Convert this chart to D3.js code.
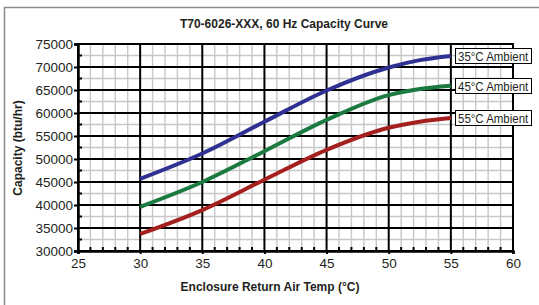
<!DOCTYPE html>
<html>
<head>
<meta charset="utf-8">
<script src="https://cdn.jsdelivr.net/npm/d3@7"></script>
<style>
body { margin: 0; background: #fff; }
text { font-family: Arial, "Liberation Sans", sans-serif; fill: #231f20; }
</style>
</head>
<body>
<svg width="539" height="305"></svg>
<script>
// data
var temps = [30, 35, 40, 45, 50, 52.5, 55];
var amb35 = [45700, 51200, 58100, 64900, 69900, 71500, 72400];
var amb45 = [39600, 45000, 51700, 58500, 63900, 65200, 65900];
var amb55 = [33700, 38900, 45500, 52000, 56800, 58100, 58900];
var seriesNames = ["35°C Ambient", "45°C Ambient", "55°C Ambient"];
var seriesColors = ["#2e3192", "#1b7a3f", "#a3201f"];
var xTicks = [25, 30, 35, 40, 45, 50, 55, 60];
var yTicks = [30000, 35000, 40000, 45000, 50000, 55000, 60000, 65000, 70000, 75000];

var svg = d3.select("svg");

// outer frame
svg.append("rect")
    .attr("x", 4.5).attr("y", 7.5)
    .attr("width", 560).attr("height", 320)
    .attr("fill", "none")
    .attr("stroke", "#8a8a8a")
    .attr("stroke-width", 1.5);

var x = d3.scaleLinear().domain([25, 60]).range([78, 513]);
var y = d3.scaleLinear().domain([30000, 75000]).range([251, 44]);

var minorX = d3.range(26, 60).filter(function(d){ return d % 5 != 0; });
var minorY = d3.range(32500, 75000, 5000);

// minor grid
var g = svg.append("g");
g.selectAll(".mx")
    .data(minorX)
    .enter().append("line")
    .attr("x1", function(d){ return x(d); })
    .attr("x2", function(d){ return x(d); })
    .attr("y1", y(75000)).attr("y2", y(30000))
    .attr("stroke", "#c8c8c8").attr("stroke-width", 1.4);
g.selectAll(".my")
    .data(minorY)
    .enter().append("line")
    .attr("y1", function(d){ return y(d); })
    .attr("y2", function(d){ return y(d); })
    .attr("x1", x(25)).attr("x2", x(60))
    .attr("stroke", "#c8c8c8").attr("stroke-width", 1.4);

// major grid
g.selectAll(".Mx")
    .data(xTicks)
    .enter().append("line")
    .attr("x1", function(d){ return x(d); })
    .attr("x2", function(d){ return x(d); })
    .attr("y1", y(75000) - 1).attr("y2", y(30000))
    .attr("stroke", "#000").attr("stroke-width", 2);
g.selectAll(".My")
    .data(yTicks)
    .enter().append("line")
    .attr("y1", function(d){ return y(d); })
    .attr("y2", function(d){ return y(d); })
    .attr("x1", x(25)).attr("x2", x(60) + 1)
    .attr("stroke", "#000").attr("stroke-width", 2);

// minor tick marks inside the axes
g.selectAll(".tx")
    .data(minorX)
    .enter().append("line")
    .attr("x1", function(d){ return x(d); })
    .attr("x2", function(d){ return x(d); })
    .attr("y1", y(30000)).attr("y2", y(30000) - 4)
    .attr("stroke", "#000").attr("stroke-width", 2);
g.selectAll(".ty")
    .data(minorY)
    .enter().append("line")
    .attr("y1", function(d){ return y(d); })
    .attr("y2", function(d){ return y(d); })
    .attr("x1", x(25)).attr("x2", x(25) + 4)
    .attr("stroke", "#000").attr("stroke-width", 2);

// axes
var xAxis = svg.append("g")
    .attr("transform", "translate(0," + y(30000) + ")")
    .call(d3.axisBottom(x).tickValues(xTicks).tickSize(3).tickPadding(1));
var yAxis = svg.append("g")
    .attr("transform", "translate(" + x(25) + ",0)")
    .call(d3.axisLeft(y).tickValues(yTicks).tickSize(4).tickPadding(1).tickFormat(d3.format("d")));
[xAxis, yAxis].forEach(function(a){
    a.select(".domain").attr("stroke", "#000").attr("stroke-width", 2.5);
    a.selectAll(".tick line").attr("stroke", "#000").attr("stroke-width", 2);
    a.selectAll("text").style("font-size", "13.5px").attr("fill", "#231f20");
});
xAxis.selectAll("text").attr("dy", "0.95em");
yAxis.selectAll("text").attr("dy", "0.36em");

// curves
var allSeries = [amb35, amb45, amb55];
var line = d3.line()
    .x(function(d, i){ return x(temps[i]); })
    .y(function(d){ return y(d); })
    .curve(d3.curveMonotoneX);

svg.selectAll(".curve")
    .data(allSeries)
    .enter().append("path")
    .attr("d", line)
    .attr("fill", "none")
    .attr("stroke", function(d, i){ return seriesColors[i]; })
    .attr("stroke-width", 4)
    .attr("stroke-linecap", "butt");

// labels at the end of each curve
var lab = svg.selectAll(".lab")
    .data(allSeries)
    .enter().append("g")
    .attr("transform", function(d){ return "translate(455.5," + (Math.round(y(d[d.length - 1])) + 0.5) + ")"; });
lab.append("rect")
    .attr("x", 0).attr("y", -8)
    .attr("width", 76).attr("height", 15)
    .attr("fill", "#fff")
    .attr("stroke", "#000").attr("stroke-width", 1);
lab.append("text")
    .attr("transform", "translate(2.5,4.8) scale(0.85,1)")
    .style("font-size", "13.5px")
    .text(function(d, i){ return seriesNames[i]; });

// titles
svg.append("text")
    .attr("x", 284).attr("y", 28)
    .attr("text-anchor", "middle")
    .style("font-weight", "bold").style("font-size", "12px")
    .text("T70-6026-XXX, 60 Hz Capacity Curve");
svg.append("text")
    .attr("x", 270).attr("y", 291)
    .attr("text-anchor", "middle")
    .style("font-weight", "bold").style("font-size", "12px")
    .text("Enclosure Return Air Temp (°C)");
svg.append("text")
    .attr("transform", "translate(22,148) rotate(-90)")
    .attr("text-anchor", "middle")
    .style("font-weight", "bold").style("font-size", "12px")
    .text("Capacity (btu/hr)");
</script>
</body>
</html>
